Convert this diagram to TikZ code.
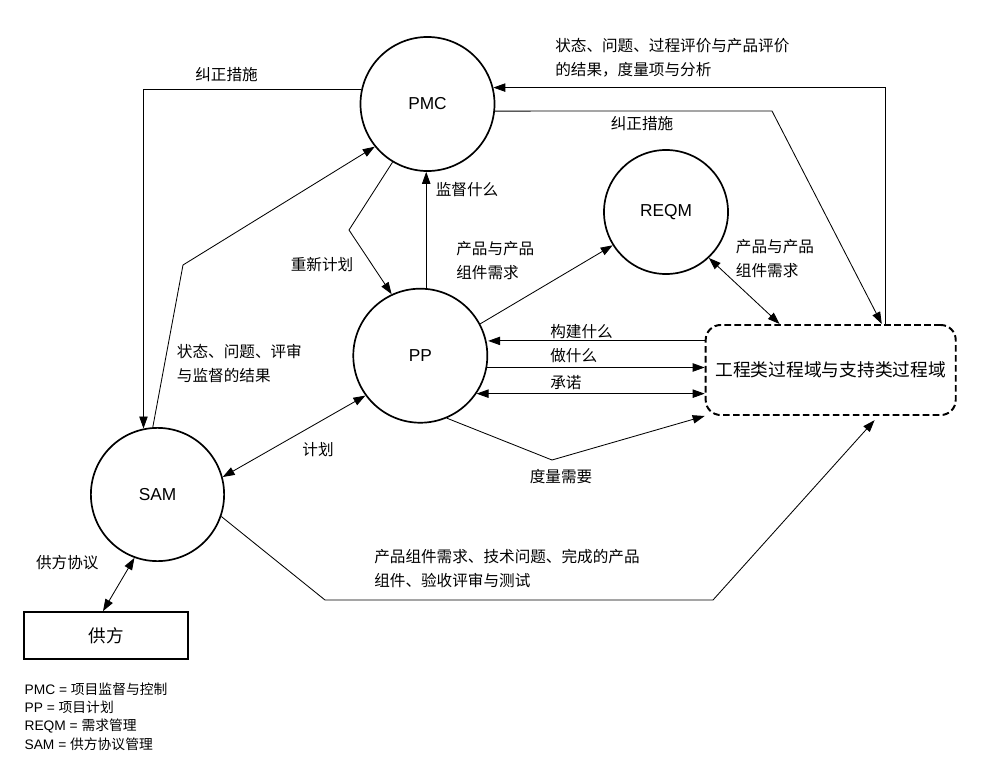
\documentclass[tikz,border=0pt]{standalone}
\usepackage{fontspec}
\setmainfont{Liberation Sans}
\newfontfamily\cjk{Noto Sans CJK SC}
\usetikzlibrary{arrows.meta}

\begin{document}
\begin{tikzpicture}[x=0.025cm,y=-0.025cm,
        proc/.style={draw,circle,line width=1.2pt,inner sep=0pt,font=\fontsize{12.3}{14}\selectfont},
        arr/.style={line width=0.6pt,-{Triangle[length=3mm,width=2.1mm]}},
        arr2/.style={line width=0.6pt,{Triangle[length=3mm,width=2.1mm]}-{Triangle[length=3mm,width=2.1mm]}},
        lbl/.style={inner sep=0pt,align=left,font={\cjk\fontsize{11.1}{17}\selectfont}}]
        \useasboundingbox (0,0) rectangle (998,781);
        \node[proc,minimum size=3.35cm] (PMC) at (427.5,104) {PMC};
        \node[proc,minimum size=3.35cm] (PP) at (420.3,355.7) {PP};
        \node[proc,minimum size=3.1cm] (REQM) at (666,212) {REQM};
        \node[proc,minimum size=3.33cm] (SAM) at (157.5,494.5) {SAM};
        \node[draw,line width=1.2pt,minimum width=4.1cm,minimum height=1.175cm,inner sep=0pt,font={\cjk\fontsize{12.5}{15}\selectfont}] (supplier) at (106,635.5) {供方};
        \node[draw,rounded corners=0.375cm,line width=1.4pt,dash pattern=on 4.7pt off 2.4pt,minimum width=6.25cm,minimum height=2.25cm,inner sep=0pt,font={\cjk\fontsize{12.6}{15}\selectfont}] (PA) at (830.7,370) {工程类过程域与支持类过程域};
        \coordinate (b1) at (183,265);
        \coordinate (b2) at (349,230);
        \coordinate (b3) at (772,111);
        \coordinate (b4) at (552,460);
        \coordinate (b5) at (325,600);
        \coordinate (b6) at (713,600);
        \draw[arr] (PMC.168) -| (SAM.102);
        \draw[arr] (SAM.94) -- (b1) -- (PMC.219);
        \draw[arr] (PMC.239) -- (b2) -- (PP.115);
        \draw[arr] (PP.85) -- (PP.85 |- PMC.south);
        \draw[arr] (PP.28) -- (REQM.212);
        \draw[arr2] (REQM.313) -- (PA.138);
        \draw[arr] (PMC.354) -- (b3) -- (PA.42);
        \draw[arr] (PA.40) |- (PMC.14);
        \draw[arr] (PA.167) -- (PA.167 -| PP.east);
        \draw[arr] (PP.350) -- (PP.350 -| PA.west);
        \draw[arr2] (PP.326) -- (PP.326 -| PA.west);
        \draw[arr] (PP.293) -- (b4) -- (PA.south west);
        \draw[arr2] (SAM.15) -- (PP.216);
        \draw[arr,shorten >=4pt] (SAM.341) -- (b5) -- (b6) -- (PA.316);
        \draw[arr2] (SAM.250) -- (supplier.97);
        \node[lbl] (l1) at (226.5,75) {纠正措施};
        \node[lbl,anchor=west] (l2) at (176.7,363.3) {状态、问题、评审\\与监督的结果};
        \node[lbl] (l3) at (322,265) {重新计划};
        \node[lbl] (l4) at (467,190) {监督什么};
        \node[lbl,anchor=west] (l5) at (456,261) {产品与产品\\组件需求};
        \node[lbl,anchor=west] (l6) at (555,58) {状态、问题、过程评价与产品评价\\的结果，度量项与分析};
        \node[lbl] (l7) at (642,124) {纠正措施};
        \node[lbl,anchor=west] (l8) at (735.7,258.7) {产品与产品\\组件需求};
        \node[lbl,anchor=west] (l9) at (550,331.7) {构建什么};
        \node[lbl,anchor=west] (l10) at (550,356) {做什么};
        \node[lbl,anchor=west] (l11) at (550,382.7) {承诺};
        \node[lbl] (l12) at (561,476.7) {度量需要};
        \node[lbl,anchor=west] (l13) at (374,568.3) {产品组件需求、技术问题、完成的产品\\组件、验收评审与测试};
        \node[lbl] (l14) at (318,450) {计划};
        \node[lbl] (l15) at (67.3,563) {供方协议};
        \node[anchor=west,inner sep=0pt,align=left,font=\fontsize{9.8}{13}\selectfont] (legend) at (24.3,716.4) {PMC = {\cjk 项目监督与控制}\\PP = {\cjk 项目计划}\\REQM = {\cjk 需求管理}\\SAM = {\cjk 供方协议管理}};
\end{tikzpicture}
\end{document}
